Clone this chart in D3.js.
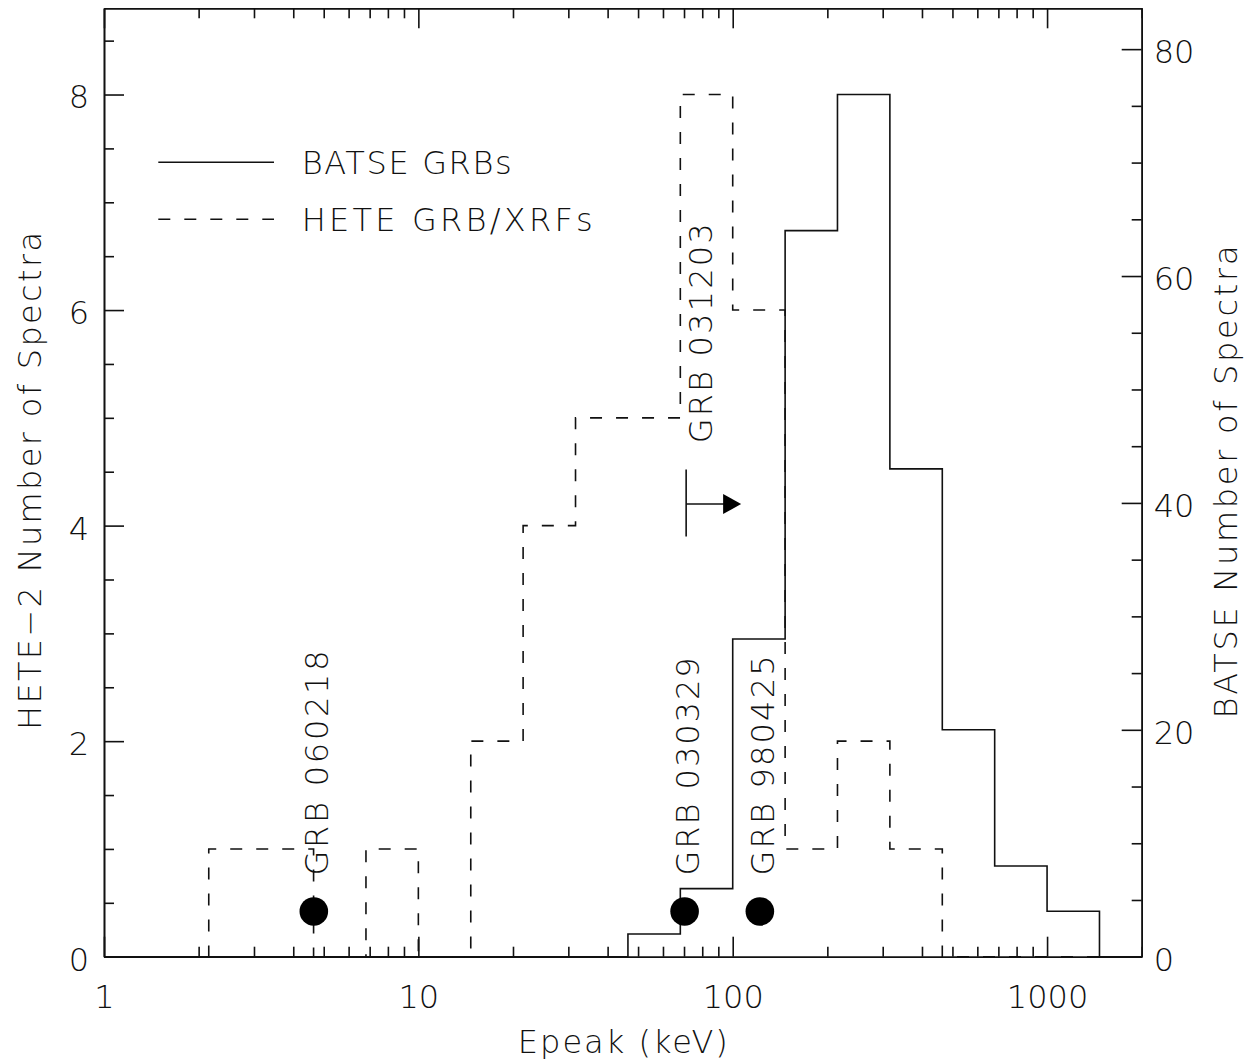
<!DOCTYPE html>
<html>
<head>
<meta charset="utf-8">
<script src="https://cdn.jsdelivr.net/npm/d3@7"></script>
<style>
  html, body { margin: 0; padding: 0; background: #fff; }
  svg text { font-family: "DejaVu Sans", "Noto Sans", sans-serif; font-weight: 200; fill: #111; }
</style>
</head>
<body>
<svg id="chart" width="1260" height="1064"></svg>
<script>
// ---- data ----
const binEdges = [1, 1.468, 2.154, 3.162, 4.642, 6.813, 10, 14.68, 21.54, 31.62, 46.42,
                  68.13, 100, 146.8, 215.4, 316.2, 464.2, 681.3, 1000, 1468, 2000];
const heteCounts  = [0, 0, 1, 1, 0, 1, 0, 2, 4, 5, 5, 8, 6, 1, 2, 1, 0, 0, 0, 0];
const batseCounts = [0, 0, 0, 0, 0, 0, 0, 0, 0, 0, 2, 6, 28, 64, 76, 43, 20, 8, 4, 0];

const grbNames = ["GRB 060218", "GRB 030329", "GRB 980425"];
const grbEpeak = [4.65, 70.3, 122];
const grbLevel = [0.42, 0.42, 0.42];

const limitName = "GRB 031203";
const limitEpeak = 71.1;
const limitLevel = 4.2;
const limitSpan = [3.9, 4.52];

const xMajorTicks = [1, 10, 100, 1000];
const xTickLabels = ["1", "10", "100", "1000"];
const yLeftMajor = [0, 2, 4, 6, 8];
const yRightMajor = [0, 20, 40, 60, 80];

const legendLabels = ["BATSE GRBs", "HETE GRB/XRFs"];

// ---- layout ----
const L = 104, R = 1141.7, T = 8.3, B = 956.7;
const svg = d3.select("#chart");

const x = d3.scaleLog().domain([1, 2000]).range([L, R]);
const yL = d3.scaleLinear().domain([0, 8.8]).range([B, T]);
const yR = d3.scaleLinear().domain([0, 83.6]).range([B, T]);

const ink = "#111";
const lw = 1.6;
const dash = "12,14";

// minor log ticks
const xMinor = [];
[1, 10, 100, 1000].forEach(d => { for (let k = 2; k <= 9; k++) if (d * k <= 2000) xMinor.push(d * k); });
const yLeftMinor = d3.range(0, 8.81, 0.5).filter(v => yLeftMajor.indexOf(v) < 0);
const yRightMinor = d3.range(0, 83.6, 5).filter(v => yRightMajor.indexOf(v) < 0);

function styleAxis(g) {
  g.selectAll("path.domain").attr("stroke", ink).attr("stroke-width", lw);
  g.selectAll(".tick line").attr("stroke", ink).attr("stroke-width", lw);
  g.selectAll(".tick text").attr("font-size", 32).attr("fill", ink)
    .attr("font-family", null).style("font-family", "\"DejaVu Sans\", \"Noto Sans\", sans-serif");
}

// bottom axis
const gB = svg.append("g").attr("transform", `translate(0,${B})`)
  .call(d3.axisBottom(x).tickValues(xMajorTicks).tickSize(-20).tickSizeOuter(0).tickPadding(29)
    .tickFormat((d, i) => xTickLabels[i]));
styleAxis(gB);
const gBm = svg.append("g").attr("transform", `translate(0,${B})`)
  .call(d3.axisBottom(x).tickValues(xMinor).tickSize(-10).tickSizeOuter(0).tickFormat(""));
styleAxis(gBm);

// top axis
const gT = svg.append("g").attr("transform", `translate(0,${T})`)
  .call(d3.axisTop(x).tickValues(xMajorTicks).tickSize(-20).tickSizeOuter(0).tickFormat(""));
styleAxis(gT);
const gTm = svg.append("g").attr("transform", `translate(0,${T})`)
  .call(d3.axisTop(x).tickValues(xMinor).tickSize(-10).tickSizeOuter(0).tickFormat(""));
styleAxis(gTm);

// left axis
const gLa = svg.append("g").attr("transform", `translate(${L},0)`)
  .call(d3.axisLeft(yL).tickValues(yLeftMajor).tickSize(-20).tickSizeOuter(0).tickPadding(15)
    .tickFormat(d3.format("d")));
styleAxis(gLa);
gLa.selectAll(".tick text").attr("dy", "0.42em");
const gLm = svg.append("g").attr("transform", `translate(${L},0)`)
  .call(d3.axisLeft(yL).tickValues(yLeftMinor).tickSize(-10).tickSizeOuter(0).tickFormat(""));
styleAxis(gLm);

// right axis
const gRa = svg.append("g").attr("transform", `translate(${R},0)`)
  .call(d3.axisRight(yR).tickValues(yRightMajor).tickSize(-20).tickSizeOuter(0).tickPadding(12)
    .tickFormat(d3.format("d")));
styleAxis(gRa);
gRa.selectAll(".tick text").attr("dy", "0.42em");
const gRm = svg.append("g").attr("transform", `translate(${R},0)`)
  .call(d3.axisRight(yR).tickValues(yRightMinor).tickSize(-10).tickSizeOuter(0).tickFormat(""));
styleAxis(gRm);

// histograms
function stepPoints(counts) {
  const pts = counts.map((c, i) => [binEdges[i], c]);
  pts.push([binEdges[binEdges.length - 1], counts[counts.length - 1]]);
  return pts;
}
const lineL = d3.line().x(d => x(d[0])).y(d => yL(d[1])).curve(d3.curveStepAfter);
const lineR = d3.line().x(d => x(d[0])).y(d => yR(d[1])).curve(d3.curveStepAfter);

svg.append("path").attr("d", lineR(stepPoints(batseCounts)))
  .attr("fill", "none").attr("stroke", ink).attr("stroke-width", lw);
svg.append("path").attr("d", lineL(stepPoints(heteCounts)))
  .attr("fill", "none").attr("stroke", ink).attr("stroke-width", lw).attr("stroke-dasharray", dash);

// GRB markers
const grbLens = [225, 218, 220];
grbNames.forEach((name, i) => {
  const cx = x(grbEpeak[i]), cy = yL(grbLevel[i]);
  svg.append("circle").attr("cx", cx).attr("cy", cy).attr("r", 14.3).attr("fill", "#000");
  svg.append("text").attr("transform", `translate(${cx + 14.6},${cy - 36}) rotate(-90)`)
    .attr("font-size", 32).attr("textLength", grbLens[i]).attr("lengthAdjust", "spacing")
    .text(name);
});

// GRB 031203 lower limit
{
  const lx = x(limitEpeak), ly = yL(limitLevel);
  svg.append("line").attr("x1", lx).attr("x2", lx).attr("y1", yL(limitSpan[0])).attr("y2", yL(limitSpan[1]))
    .attr("stroke", ink).attr("stroke-width", lw);
  svg.append("line").attr("x1", lx).attr("x2", lx + 38).attr("y1", ly).attr("y2", ly)
    .attr("stroke", ink).attr("stroke-width", lw);
  svg.append("path").attr("d", `M${lx + 37},${ly - 10}L${lx + 55},${ly}L${lx + 37},${ly + 10}Z`)
    .attr("fill", "#000");
  svg.append("text").attr("transform", `translate(${lx + 25.7},${ly - 60.7}) rotate(-90)`)
    .attr("font-size", 32).attr("textLength", 220).attr("lengthAdjust", "spacing")
    .text(limitName);
}

// legend
const legY = [162.3, 219.3];
const legLen = [210, 291];
legendLabels.forEach((lab, i) => {
  svg.append("line").attr("x1", 158.3).attr("x2", 274).attr("y1", legY[i]).attr("y2", legY[i])
    .attr("stroke", ink).attr("stroke-width", lw)
    .attr("stroke-dasharray", i === 1 ? dash : null);
  svg.append("text").attr("x", 301.7).attr("y", legY[i] + 11.7)
    .attr("font-size", 32).attr("textLength", legLen[i]).attr("lengthAdjust", "spacing")
    .text(lab);
});

// axis titles
svg.append("text").attr("x", (L + R) / 2).attr("y", 1053.3).attr("text-anchor", "middle")
  .attr("font-size", 32).attr("textLength", 210).attr("lengthAdjust", "spacing")
  .text("Epeak (keV)");
svg.append("text").attr("transform", `translate(40.7,481) rotate(-90)`).attr("text-anchor", "middle")
  .attr("font-size", 32).attr("textLength", 498).attr("lengthAdjust", "spacing")
  .text("HETE\u22122 Number of Spectra");
svg.append("text").attr("transform", `translate(1236.7,482) rotate(-90)`).attr("text-anchor", "middle")
  .attr("font-size", 32).attr("textLength", 473).attr("lengthAdjust", "spacing")
  .text("BATSE Number of Spectra");
</script>
</body>
</html>
